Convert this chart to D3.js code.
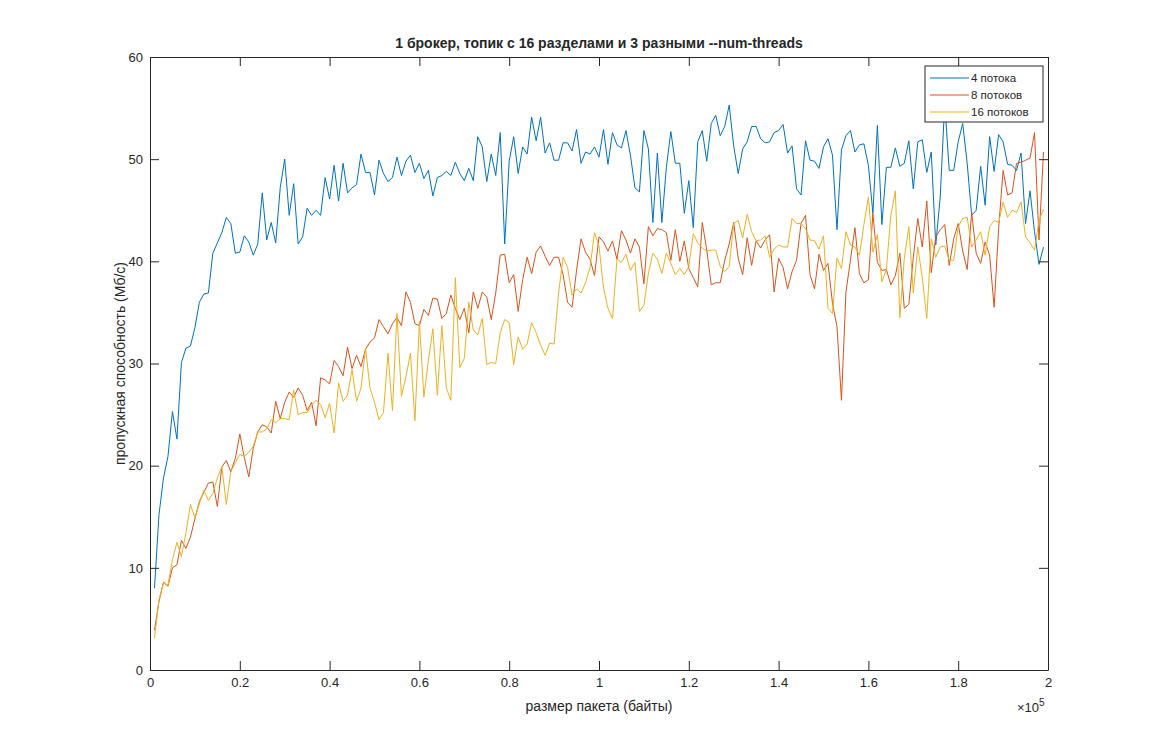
<!DOCTYPE html>
<html>
<head>
<meta charset="utf-8">
<script src="https://cdn.jsdelivr.net/npm/d3@7"></script>
<style>
  html, body { margin: 0; padding: 0; background: #ffffff; }
  svg { display: block; }
  text { font-family: "Liberation Sans", Arial, Helvetica, sans-serif; fill: #262626; }
</style>
</head>
<body>
<svg id="chart" width="1159" height="753"></svg>
<script>
// ---------------- DATA ----------------
const titleText = "1 брокер, топик с 16 разделами и 3 разными --num-threads";
const xLabelText = "размер пакета (байты)";
const yLabelText = "пропускная способность (Мб/с)";
const seriesNames = ["4 потока", "8 потоков", "16 потоков"];
const seriesColors = ["#0072BD", "#D95319", "#EDB120"];
const xTicks = [0, 20000, 40000, 60000, 80000, 100000, 120000, 140000, 160000, 180000, 200000];
const xTickLabels = ["0", "0.2", "0.4", "0.6", "0.8", "1", "1.2", "1.4", "1.6", "1.8", "2"];
const yTicks = [0, 10, 20, 30, 40, 50, 60];
const yTickLabels = ["0", "10", "20", "30", "40", "50", "60"];

// packet sizes: 1000 .. 199000 bytes, step 1000
const packetSizes = d3.range(1000, 200000, 1000);

const threads4 = [
 8.0,15.2,18.8,20.9,25.3,22.6,30.1,31.5,31.7,33.5,36.0,36.8,36.9,40.8,41.8,42.8,44.3,43.7,40.8,40.9,
 42.5,41.9,40.6,41.7,46.7,42.1,43.8,41.8,47.2,50.0,44.5,47.6,41.7,42.4,45.2,44.5,45.0,44.5,48.2,46.1,
 49.4,45.9,49.6,46.7,47.2,47.5,50.5,48.7,48.7,46.5,49.9,48.6,47.8,48.2,50.2,48.4,49.8,50.4,48.7,49.6,
 48.1,48.9,46.4,48.2,48.4,48.8,48.4,49.7,48.6,47.9,49.1,47.9,52.2,51.2,47.8,50.5,48.4,52.6,41.7,49.8,
 52.2,48.6,51.2,50.5,54.1,51.8,54.1,50.6,51.6,49.9,49.9,51.6,51.6,50.8,52.9,49.6,50.7,50.5,51.2,50.2,
 52.9,49.5,52.6,51.4,51.1,52.8,50.4,47.2,46.8,52.8,51.0,43.8,50.6,43.8,49.2,52.7,49.6,49.6,44.7,47.9,
 43.3,51.7,52.8,49.8,53.5,54.3,52.3,53.2,55.3,51.3,48.6,51.0,51.7,53.2,53.2,52.0,51.6,51.7,52.6,52.8,
 53.4,50.6,51.3,47.1,46.5,51.8,49.9,49.8,49.1,51.2,52.0,50.4,43.1,50.9,52.3,52.8,50.7,51.4,51.5,49.4,
 44.7,53.3,43.6,49.2,49.2,51.1,49.3,49.6,51.8,47.1,51.7,51.9,48.7,50.7,41.6,46.3,55.5,48.9,48.9,51.7,
 53.5,49.6,44.5,45.0,49.3,45.5,52.2,48.8,52.4,51.7,49.5,49.4,48.9,50.6,43.7,46.9,42.9,39.7,41.4
];

const threads8 = [
 3.9,6.7,8.6,8.2,10.0,10.3,12.7,11.9,13.0,14.8,16.5,17.4,18.3,18.4,16.0,19.9,20.5,19.4,20.7,23.1,
 20.8,18.9,21.7,23.3,24.0,23.8,23.2,26.3,24.6,26.2,27.2,26.7,27.6,26.9,25.4,26.2,23.9,28.6,28.4,28.0,
 30.3,29.7,28.8,31.6,29.5,30.8,29.7,31.4,32.1,32.5,34.3,33.6,32.9,33.9,34.5,33.7,37.0,36.0,33.9,33.7,
 35.3,34.7,36.4,36.3,34.4,34.9,36.7,35.4,34.3,35.4,33.0,37.0,35.4,37.0,36.5,34.3,36.9,40.6,40.7,37.9,
 38.7,35.1,38.2,40.4,38.8,40.9,41.5,40.5,39.6,40.4,40.4,38.7,36.0,35.5,39.1,42.2,40.9,40.2,38.6,42.4,
 41.9,41.0,42.0,40.2,43.0,42.1,40.8,42.2,41.4,37.8,43.4,42.5,43.2,43.1,42.8,40.1,43.1,40.0,42.0,39.3,
 38.4,37.5,43.8,41.1,37.7,37.9,37.9,40.1,41.7,43.8,40.3,38.7,42.3,39.6,42.0,41.3,42.1,42.6,37.0,40.3,
 39.4,37.3,39.0,40.1,43.7,44.5,38.7,37.3,40.7,39.1,39.8,35.9,33.6,26.4,37.0,40.1,43.3,38.8,37.9,38.2,
 44.7,39.9,39.1,39.2,37.7,38.6,40.8,35.4,35.8,40.4,44.2,41.4,45.9,38.9,42.4,43.1,43.6,39.6,42.2,43.7,
 41.0,39.2,44.8,40.8,39.8,41.9,40.6,35.5,43.2,48.9,46.5,46.7,49.6,49.7,49.9,50.1,52.6,42.1,50.7
];

const threads16 = [
 3.1,6.9,8.5,8.3,10.8,12.5,11.1,13.4,16.2,14.9,16.3,17.6,16.6,17.3,18.8,19.9,16.2,19.4,20.3,21.1,
 20.9,21.3,21.9,23.3,23.3,23.6,24.5,24.2,24.6,24.6,24.5,27.4,25.0,25.2,25.2,25.9,26.4,26.0,24.7,26.1,
 23.2,28.1,26.3,26.9,29.4,26.3,27.6,31.5,27.6,26.2,24.5,25.2,31.0,25.4,34.9,26.8,28.7,31.0,24.4,34.1,
 26.7,30.3,33.4,26.9,33.7,27.6,26.4,38.4,29.6,30.5,36.0,33.3,32.8,34.4,29.9,30.1,30.0,33.0,34.3,34.0,
 29.9,32.6,31.4,31.9,34.0,33.0,31.8,30.8,32.0,31.9,36.9,40.4,39.4,36.7,37.3,36.9,37.9,39.4,42.8,41.5,
 37.4,35.4,34.4,40.2,39.9,40.7,39.1,39.9,35.1,35.7,38.8,40.8,40.2,38.8,40.8,39.8,38.7,39.3,38.7,39.5,
 42.7,41.8,41.3,41.0,41.1,41.1,39.5,39.0,39.5,43.7,44.0,42.3,44.6,42.9,42.0,42.1,42.5,40.4,41.2,41.6,
 41.4,41.4,44.2,43.7,43.7,43.2,42.1,42.0,41.2,42.5,35.4,34.9,40.3,39.3,42.9,41.6,41.4,40.6,43.6,46.3,
 40.9,42.6,38.0,39.2,44.5,46.9,34.5,40.3,43.4,36.9,41.4,38.4,34.4,42.2,40.4,41.4,41.5,40.1,40.1,43.4,
 44.2,44.3,41.4,42.1,42.9,40.6,43.4,44.0,43.8,45.8,44.3,45.0,44.8,45.8,42.4,41.8,41.1,44.0,45.1
];

const seriesValues = [threads4, threads8, threads16];

// ---------------- LAYOUT ----------------
const svg = d3.select("#chart");
const plot = { left: 150, right: 1048, top: 57, bottom: 670 };
const axisColor = "#262626";
const tickLen = 9;

const x = d3.scaleLinear().domain([0, 200000]).range([plot.left, plot.right]);
const y = d3.scaleLinear().domain([0, 60]).range([plot.bottom, plot.top]);

// white axes background
svg.append("rect")
  .attr("x", plot.left).attr("y", plot.top)
  .attr("width", plot.right - plot.left).attr("height", plot.bottom - plot.top)
  .attr("fill", "#ffffff");

// lines
const line = d3.line()
  .x((d, i) => x(packetSizes[i]))
  .y(d => y(d));

svg.append("g").selectAll("path")
  .data(seriesValues)
  .join("path")
  .attr("fill", "none")
  .attr("stroke", (d, i) => seriesColors[i])
  .attr("stroke-width", 1)
  .attr("stroke-linejoin", "round")
  .attr("d", d => line(d));

// axes
function styleAxis(g) {
  g.selectAll("path.domain").attr("stroke", axisColor).attr("stroke-width", 1);
  g.selectAll(".tick line").attr("stroke", axisColor).attr("stroke-width", 1);
  g.selectAll(".tick text").attr("fill", axisColor).style("font-size", "13px")
    .style("font-family", "'Liberation Sans', Arial, sans-serif");
}

const gx = svg.append("g")
  .attr("transform", `translate(0,${plot.bottom})`)
  .call(d3.axisBottom(x).tickValues(xTicks)
    .tickFormat((d, i) => xTickLabels[i])
    .tickSizeInner(-tickLen).tickSizeOuter(0).tickPadding(8));
styleAxis(gx);

const gxTop = svg.append("g")
  .attr("transform", `translate(0,${plot.top})`)
  .call(d3.axisTop(x).tickValues(xTicks).tickFormat("")
    .tickSizeInner(-tickLen).tickSizeOuter(0));
styleAxis(gxTop);

const gy = svg.append("g")
  .attr("transform", `translate(${plot.left},0)`)
  .call(d3.axisLeft(y).tickValues(yTicks)
    .tickFormat((d, i) => yTickLabels[i])
    .tickSizeInner(-tickLen).tickSizeOuter(0).tickPadding(7));
styleAxis(gy);

const gyRight = svg.append("g")
  .attr("transform", `translate(${plot.right},0)`)
  .call(d3.axisRight(y).tickValues(yTicks).tickFormat("")
    .tickSizeInner(-tickLen).tickSizeOuter(0));
styleAxis(gyRight);

// exponent label
const expText = svg.append("text")
  .attr("x", 1017).attr("y", 712)
  .style("font-size", "13px");
expText.append("tspan").text("×10");
expText.append("tspan").attr("dy", -6).style("font-size", "10px").text("5");

// title
svg.append("text")
  .attr("x", (plot.left + plot.right) / 2).attr("y", 48)
  .attr("text-anchor", "middle")
  .style("font-size", "14px").style("font-weight", "bold")
  .text(titleText);

// axis labels
svg.append("text")
  .attr("x", (plot.left + plot.right) / 2).attr("y", 711)
  .attr("text-anchor", "middle")
  .style("font-size", "14px")
  .text(xLabelText);

svg.append("text")
  .attr("transform", `translate(125,${(plot.top + plot.bottom) / 2}) rotate(-90)`)
  .attr("text-anchor", "middle")
  .style("font-size", "14px")
  .text(yLabelText);

// legend
const legend = { x: 925, y: 66, w: 118, h: 56 };
const lg = svg.append("g");
lg.append("rect")
  .attr("x", legend.x).attr("y", legend.y)
  .attr("width", legend.w).attr("height", legend.h)
  .attr("fill", "#ffffff").attr("stroke", axisColor).attr("stroke-width", 1);

const rowY = d3.scalePoint().domain(seriesNames).range([legend.y + 12, legend.y + 46]);
const items = lg.selectAll("g.item").data(seriesNames).join("g").attr("class", "item");
items.append("line")
  .attr("x1", legend.x + 5).attr("x2", legend.x + 44)
  .attr("y1", d => rowY(d)).attr("y2", d => rowY(d))
  .attr("stroke", (d, i) => seriesColors[i]).attr("stroke-width", 1);
items.append("text")
  .attr("x", legend.x + 46).attr("y", d => rowY(d) + 4)
  .style("font-size", "11.5px")
  .text(d => d);
</script>
</body>
</html>
